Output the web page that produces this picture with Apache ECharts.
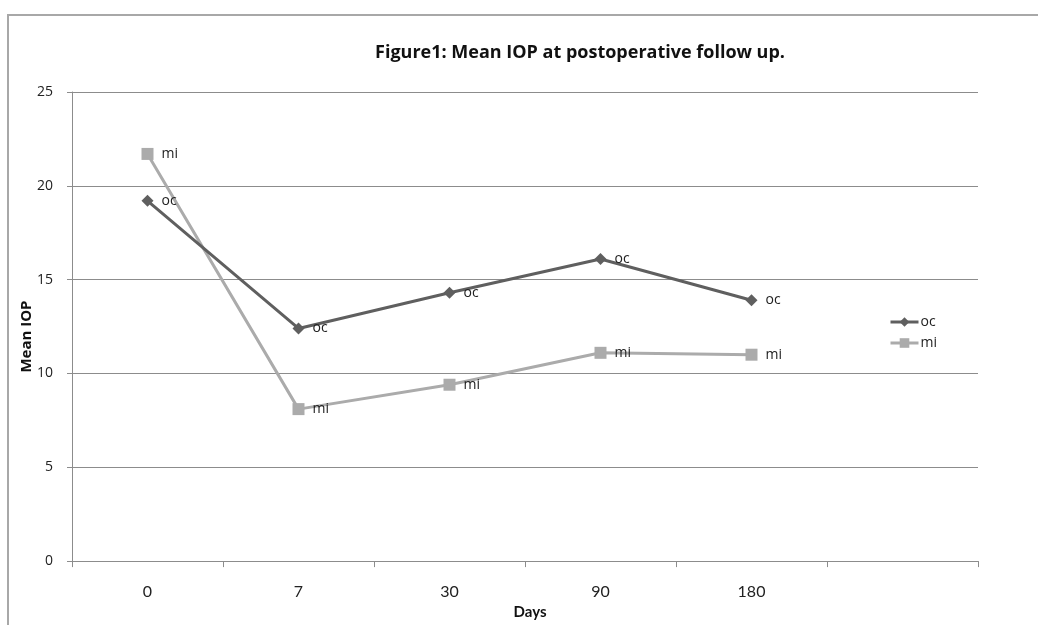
<!DOCTYPE html>
<html><head><meta charset="utf-8">
<script src="https://cdn.jsdelivr.net/npm/echarts@6/dist/echarts.min.js"></script>
<style>html,body{margin:0;padding:0;background:#fff}#c{width:1038px;height:625px}</style>
</head><body><div id="c"></div>
<script>
const categories = ['0', '7', '30', '90', '180', ''];
const ocValues = [19.2, 12.4, 14.3, 16.1, 13.9];
const miValues = [21.7, 8.1, 9.4, 11.1, 11.0];
const yTicks = [0, 5, 10, 15, 20, 25];

const chart = echarts.init(document.getElementById('c'), null, {renderer: 'canvas'});
const labelStyle = {show: true, position: 'right', distance: 8, formatter: '{a}', color: '#222', fontFamily: 'Open Sans', fontSize: 14};
chart.setOption({
  animation: false,
  backgroundColor: '#fff',
  graphic: [{type: 'rect', shape: {x: 8, y: 15, width: 1100, height: 700}, style: {fill: 'none', stroke: '#a8a8a8', lineWidth: 2}, silent: true}],
  title: {text: 'Figure1: Mean IOP at postoperative follow up.', left: 575, top: 39, textAlign: 'center',
    textStyle: {fontFamily: 'Open Sans', fontWeight: 'bold', fontSize: 18, color: '#111'}},
  legend: {orient: 'vertical', left: 884, top: 310, itemGap: 7, itemWidth: 28, itemHeight: 12,
    data: ['oc', 'mi'], lineStyle: {width: 3},
    textStyle: {fontFamily: 'Open Sans', fontSize: 14, color: '#222', padding: [0, 0, 0, -3]}},
  grid: {left: 72, right: 60, top: 92, bottom: 62},
  xAxis: {type: 'category', data: categories, boundaryGap: true,
    name: 'Days', nameLocation: 'middle', nameGap: 43,
    nameTextStyle: {fontFamily: 'Lato', fontWeight: 'bold', fontSize: 15, color: '#111', padding: [0, 0, 0, 10]},
    axisLine: {lineStyle: {color: '#8c8c8c', width: 1}},
    axisTick: {show: true, alignWithLabel: false, length: 6, inside: false, lineStyle: {color: '#8c8c8c'}},
    axisLabel: {margin: 23, fontFamily: 'Lato', fontSize: 16, color: '#222'}},
  yAxis: {type: 'value', min: 0, max: 25, interval: 5,
    name: 'Mean IOP', nameLocation: 'middle', nameGap: 38, nameRotate: 90, nameMoveOverlap: false,
    nameTextStyle: {fontFamily: 'Open Sans', fontWeight: 'bold', fontSize: 15, color: '#111', padding: [0, 20, 0, 0]},
    axisLine: {show: true, lineStyle: {color: '#8c8c8c', width: 1}},
    axisTick: {show: true, length: 5, lineStyle: {color: '#8c8c8c'}},
    axisLabel: {margin: 19, fontFamily: 'Open Sans', fontSize: 14, color: '#222',
      formatter: v => yTicks.includes(v) ? String(v) : ''},
    splitLine: {show: true, lineStyle: {color: '#8c8c8c', width: 1}}},
  series: [
    {name: 'oc', type: 'line', data: ocValues, symbol: 'diamond', symbolSize: 12,
      lineStyle: {color: '#5f5f5f', width: 3}, itemStyle: {color: '#5f5f5f'}, label: labelStyle, z: 3},
    {name: 'mi', type: 'line', data: miValues, symbol: 'rect', symbolSize: 12,
      lineStyle: {color: '#ababab', width: 3}, itemStyle: {color: '#ababab'}, label: labelStyle, z: 2}
  ]
});
</script></body></html>
